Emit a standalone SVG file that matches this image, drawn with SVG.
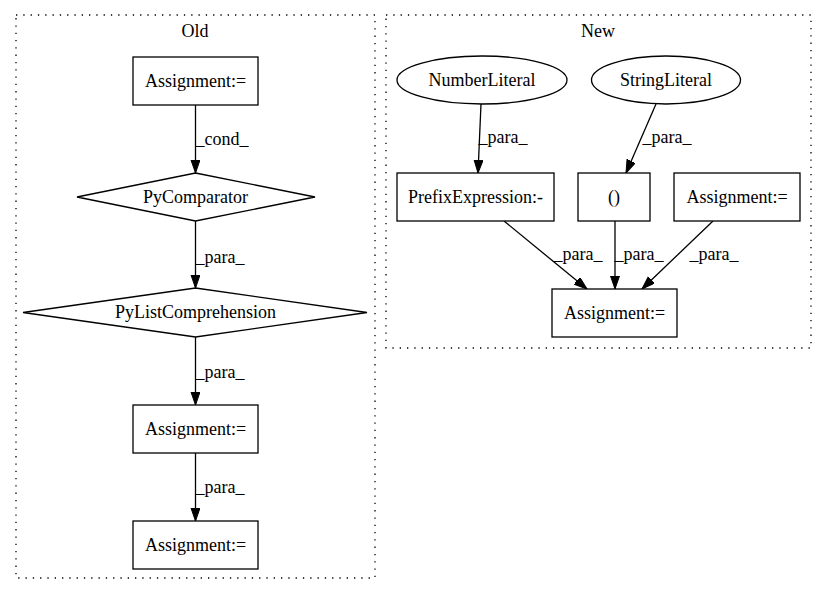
<svg xmlns="http://www.w3.org/2000/svg" width="827" height="596" viewBox="0 0 827 596">
<style>
text{font-family:"Liberation Serif","Times New Roman",serif;font-size:18px;fill:#000;text-anchor:middle}
.cl{fill:none;stroke:#000;stroke-width:1.3;stroke-dasharray:1.3,6}
.n{fill:#fff;stroke:#000;stroke-width:1.3}
.e{fill:none;stroke:#000;stroke-width:1.3;marker-end:url(#a)}
</style>
<defs>
<marker id="a" markerUnits="userSpaceOnUse" markerWidth="14" markerHeight="10" refX="13" refY="4.5" orient="auto">
<path d="M0,0 L13,4.5 L0,9 z" fill="#000" stroke="#000" stroke-width="1"/>
</marker>
</defs>
<rect width="827" height="596" fill="#fff"/>
<g id="cluster_old">
<rect class="cl" x="16" y="15" width="359" height="563"/>
<text x="195" y="37">Old</text>
</g>
<g id="cluster_new">
<rect class="cl" x="386" y="15" width="425" height="333"/>
<text x="598" y="37">New</text>
</g>
<g id="connectors">
<line class="e" x1="195.5" y1="105" x2="195.5" y2="173"/>
<text x="222" y="145">_cond_</text>
<line class="e" x1="195.5" y1="221" x2="195.5" y2="288"/>
<text x="220" y="263">_para_</text>
<line class="e" x1="195.5" y1="337" x2="195.5" y2="405"/>
<text x="220" y="378">_para_</text>
<line class="e" x1="195.5" y1="453" x2="195.5" y2="521"/>
<text x="220" y="493">_para_</text>
<line class="e" x1="481" y1="104" x2="478" y2="173"/>
<text x="503" y="143">_para_</text>
<line class="e" x1="656" y1="104" x2="626" y2="173"/>
<text x="667" y="143">_para_</text>
<line class="e" x1="504" y1="221" x2="587" y2="289"/>
<text x="578" y="260">_para_</text>
<line class="e" x1="615" y1="221" x2="615" y2="289"/>
<text x="639" y="260">_para_</text>
<line class="e" x1="713" y1="221" x2="642" y2="289"/>
<text x="714" y="260">_para_</text>
</g>
<g id="old_assign1">
<rect class="n" x="133" y="57" width="125" height="48"/>
<text x="195.5" y="87">Assignment:=</text>
</g>
<g id="old_pycomparator">
<polygon class="n" points="195.5,173 315,197 195.5,221 77,197"/>
<text x="195.5" y="203">PyComparator</text>
</g>
<g id="old_pylistcomp">
<polygon class="n" points="195.5,288 367,312.5 195.5,337 23,312.5"/>
<text x="195.5" y="318">PyListComprehension</text>
</g>
<g id="old_assign2">
<rect class="n" x="133" y="405" width="125" height="48"/>
<text x="195.5" y="435">Assignment:=</text>
</g>
<g id="old_assign3">
<rect class="n" x="133" y="521" width="125" height="48"/>
<text x="195.5" y="551">Assignment:=</text>
</g>
<g id="new_numberliteral">
<ellipse class="n" cx="482" cy="80" rx="85" ry="24"/>
<text x="482" y="86">NumberLiteral</text>
</g>
<g id="new_stringliteral">
<ellipse class="n" cx="666" cy="80" rx="74.5" ry="24"/>
<text x="666" y="86">StringLiteral</text>
</g>
<g id="new_prefix">
<rect class="n" x="397" y="173" width="157" height="48"/>
<text x="475.5" y="203">PrefixExpression:-</text>
</g>
<g id="new_paren">
<rect class="n" x="578" y="173" width="72" height="48"/>
<text x="614" y="203">()</text>
</g>
<g id="new_assign_right">
<rect class="n" x="674" y="173" width="126" height="48"/>
<text x="737" y="203">Assignment:=</text>
</g>
<g id="new_assign_bottom">
<rect class="n" x="552" y="289" width="125" height="48"/>
<text x="614.5" y="319">Assignment:=</text>
</g>
</svg>
